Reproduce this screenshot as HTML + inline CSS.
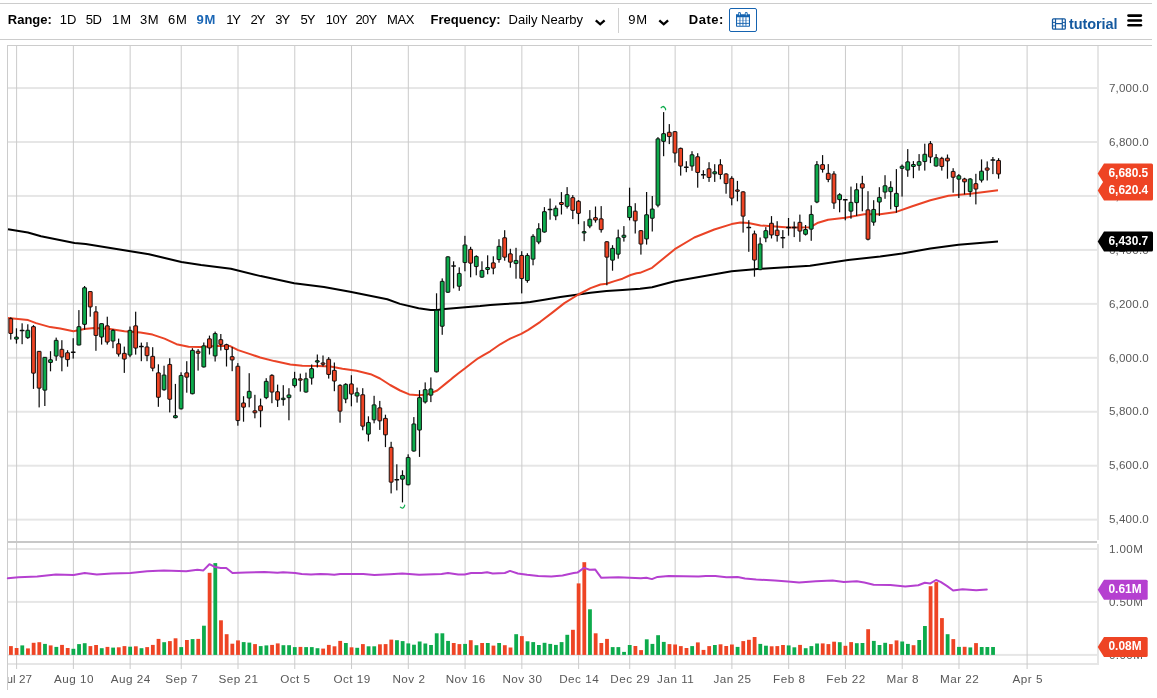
<!DOCTYPE html>
<html lang="en"><head><meta charset="utf-8"><title>Chart</title>
<style>
html,body{margin:0;padding:0;background:#fff;}
body{width:1157px;height:698px;overflow:hidden;position:relative;font-family:"Liberation Sans",sans-serif;color:#000;}
#bar{position:absolute;left:0;top:3px;width:1152px;height:35px;border-top:1px solid #ccc;border-bottom:1px solid #ccc;box-sizing:content-box;}
#bar span{position:absolute;top:8px;font-size:13px;line-height:16px;white-space:nowrap;}
#bar b{font-weight:bold;}
#bar .sel{color:#1a66b5;font-weight:bold;}
#sep{position:absolute;left:618px;top:4px;width:1px;height:25px;background:#d0d0d0;}
#cal{position:absolute;left:729px;top:4px;width:26px;height:22px;border:1px solid #1563b0;border-radius:2px;}
#tut{color:#14599f;font-weight:bold;font-size:14.5px !important;letter-spacing:-0.1px;}
#chart{position:absolute;left:7px;top:45px;width:1145px;height:645px;border-left:1px solid #ccc;border-top:1px solid #ccc;box-sizing:border-box;}
svg{position:absolute;left:0;top:0;}
svg text{font-family:"Liberation Sans",sans-serif;}
</style></head><body>
<div id="bar">

<span style="left:7.8px"><b>Range:</b></span>
<span style="left:59.7px;letter-spacing:0.2px">1D</span>
<span style="left:85.7px;letter-spacing:-0.4px">5D</span>
<span style="left:112.0px;letter-spacing:0.9px">1M</span>
<span style="left:139.9px;letter-spacing:0.7px">3M</span>
<span style="left:167.9px;letter-spacing:0.8px">6M</span>
<span class="sel" style="left:196.4px;letter-spacing:0.9px">9M</span>
<span style="left:226.3px;letter-spacing:-1.2px">1Y</span>
<span style="left:250.5px;letter-spacing:-0.9px">2Y</span>
<span style="left:275.2px;letter-spacing:-0.9px">3Y</span>
<span style="left:300.5px;letter-spacing:-1.0px">5Y</span>
<span style="left:325.8px;letter-spacing:-0.6px">10Y</span>
<span style="left:355.6px;letter-spacing:-0.8px">20Y</span>
<span style="left:387.0px;letter-spacing:-0.4px">MAX</span>
<span style="left:430.6px"><b>Frequency:</b></span>
<span style="left:508.6px">Daily Nearby</span>
<span style="left:628.2px;letter-spacing:0.9px">9M</span>
<span style="left:688.7px;letter-spacing:0.55px"><b>Date:</b></span>
<div id="sep"></div><div id="cal"></div>
<span id="tut" style="left:1069px;top:12px">tutorial</span>
</div>
<div id="chart"></div>
<svg width="1157" height="698" viewBox="0 0 1157 698">
<path d="M595.8 20.3 L600.2 24.3 L604.6 20.3" fill="none" stroke="#000" stroke-width="2.3" stroke-linecap="butt" stroke-linejoin="miter"/>
<path d="M659.3 20.3 L663.7 24.3 L668.1 20.3" fill="none" stroke="#000" stroke-width="2.3" stroke-linecap="butt" stroke-linejoin="miter"/>
<g fill="#1563b0"><path d="M736 14.2 h14 v11.8 a0.8 0.8 0 0 1 -0.8 0.8 h-12.4 a0.8 0.8 0 0 1 -0.8 -0.8z M737.1 17.2 v8.6 h11.8 v-8.6z"/><rect x="738.1" y="12" width="2.7" height="4.2" rx="1.2"/><rect x="744.9" y="12" width="2.7" height="4.2" rx="1.2"/><rect x="739.5" y="17.2" width="0.9" height="8.6"/><rect x="742.5" y="17.2" width="0.9" height="8.6"/><rect x="745.5" y="17.2" width="0.9" height="8.6"/><rect x="737.1" y="20.0" width="11.8" height="0.5" opacity="0.6"/><rect x="737.1" y="22.9" width="11.8" height="0.9"/></g>
<g fill="#bfe0f5"><rect x="738.9" y="12.7" width="1.1" height="2.6" rx="0.55"/><rect x="745.7" y="12.7" width="1.1" height="2.6" rx="0.55"/></g>
<g fill="none" stroke="#14599f"><rect x="1052.5" y="18.8" width="12.8" height="10.4" rx="1" stroke-width="1.3"/><path d="M1055.5 18.8v10.4M1062.3 18.8v10.4M1055.5 23.6h6.8" stroke-width="1.2"/><path d="M1052.5 22.4h3M1052.5 25.9h3M1062.3 22.4h3M1062.3 25.9h3" stroke-width="1"/></g>
<rect x="1127.2" y="14.299999999999999" width="15" height="2.6" rx="1.3" fill="#000"/>
<rect x="1127.2" y="19.15" width="15" height="2.6" rx="1.3" fill="#000"/>
<rect x="1127.2" y="23.9" width="15" height="2.6" rx="1.3" fill="#000"/>
<rect x="8" y="518.65" width="1089" height="2" fill="#e6e6e6"/>
<rect x="8" y="464.70" width="1089" height="2" fill="#e6e6e6"/>
<rect x="8" y="410.75" width="1089" height="2" fill="#e6e6e6"/>
<rect x="8" y="356.80" width="1089" height="2" fill="#e6e6e6"/>
<rect x="8" y="302.85" width="1089" height="2" fill="#e6e6e6"/>
<rect x="8" y="248.90" width="1089" height="2" fill="#e6e6e6"/>
<rect x="8" y="194.95" width="1089" height="2" fill="#e6e6e6"/>
<rect x="8" y="141.00" width="1089" height="2" fill="#e6e6e6"/>
<rect x="8" y="87.05" width="1089" height="2" fill="#e6e6e6"/>
<rect x="8" y="548.00" width="1089" height="2" fill="#e6e6e6"/>
<rect x="8" y="600.90" width="1089" height="2" fill="#e6e6e6"/>
<rect x="8" y="653.90" width="1089" height="2" fill="#e6e6e6"/>
<rect x="8" y="663" width="1091" height="2" fill="#e6e6e6"/>
<rect x="1097" y="46" width="2" height="494" fill="#e6e6e6"/>
<rect x="1097" y="544" width="2" height="121" fill="#e6e6e6"/>
<rect x="16.10" y="46" width="1" height="623" fill="#cbcbcb"/>
<rect x="72.87" y="46" width="1" height="623" fill="#cbcbcb"/>
<rect x="129.64" y="46" width="1" height="623" fill="#cbcbcb"/>
<rect x="180.73" y="46" width="1" height="623" fill="#cbcbcb"/>
<rect x="237.50" y="46" width="1" height="623" fill="#cbcbcb"/>
<rect x="294.27" y="46" width="1" height="623" fill="#cbcbcb"/>
<rect x="351.04" y="46" width="1" height="623" fill="#cbcbcb"/>
<rect x="407.81" y="46" width="1" height="623" fill="#cbcbcb"/>
<rect x="464.58" y="46" width="1" height="623" fill="#cbcbcb"/>
<rect x="521.35" y="46" width="1" height="623" fill="#cbcbcb"/>
<rect x="578.12" y="46" width="1" height="623" fill="#cbcbcb"/>
<rect x="629.21" y="46" width="1" height="623" fill="#cbcbcb"/>
<rect x="674.63" y="46" width="1" height="623" fill="#cbcbcb"/>
<rect x="731.40" y="46" width="1" height="623" fill="#cbcbcb"/>
<rect x="788.17" y="46" width="1" height="623" fill="#cbcbcb"/>
<rect x="844.94" y="46" width="1" height="623" fill="#cbcbcb"/>
<rect x="901.71" y="46" width="1" height="623" fill="#cbcbcb"/>
<rect x="958.48" y="46" width="1" height="623" fill="#cbcbcb"/>
<rect x="1026.60" y="46" width="1" height="623" fill="#cbcbcb"/>
<rect x="8" y="541" width="1089" height="2" fill="#c8c8c8"/>
<clipPath id="cl"><rect x="8" y="665" width="1149" height="33"/></clipPath>
<g clip-path="url(#cl)" font-size="11.7" letter-spacing="0.5" fill="#585858" text-anchor="middle">
<text x="16.3" y="682.6" letter-spacing="0">Jul 27</text>
<text x="74.0" y="682.6">Aug 10</text>
<text x="130.7" y="682.6">Aug 24</text>
<text x="181.8" y="682.6">Sep 7</text>
<text x="238.6" y="682.6">Sep 21</text>
<text x="295.4" y="682.6">Oct 5</text>
<text x="352.1" y="682.6">Oct 19</text>
<text x="408.9" y="682.6">Nov 2</text>
<text x="465.7" y="682.6">Nov 16</text>
<text x="522.4" y="682.6">Nov 30</text>
<text x="579.2" y="682.6">Dec 14</text>
<text x="630.3" y="682.6">Dec 29</text>
<text x="675.7" y="682.6">Jan 11</text>
<text x="732.5" y="682.6">Jan 25</text>
<text x="789.3" y="682.6">Feb 8</text>
<text x="846.0" y="682.6">Feb 22</text>
<text x="902.8" y="682.6">Mar 8</text>
<text x="959.6" y="682.6">Mar 22</text>
<text x="1027.7" y="682.6">Apr 5</text>
</g>
<g font-size="11.6" letter-spacing="0.2" fill="#585858">
<text x="1108.9" y="523.4">5,400.0</text>
<text x="1108.9" y="469.4">5,600.0</text>
<text x="1108.9" y="415.4">5,800.0</text>
<text x="1108.9" y="361.5">6,000.0</text>
<text x="1108.9" y="307.6">6,200.0</text>
<text x="1108.9" y="253.6">6,400.0</text>
<text x="1108.9" y="199.6">6,600.0</text>
<text x="1108.9" y="145.7">6,800.0</text>
<text x="1108.9" y="91.8">7,000.0</text>
<text x="1108.9" y="552.7" letter-spacing="0.45">1.00M</text>
<text x="1108.9" y="605.6" letter-spacing="0.45">0.50M</text>
<text x="1108.9" y="658.6" letter-spacing="0.45">0.00M</text>
</g>
<rect x="9.02" y="646.1" width="3.8" height="8.8" fill="#ee4424"/>
<rect x="14.70" y="648.0" width="3.8" height="6.9" fill="#ee4424"/>
<rect x="20.37" y="645.4" width="3.8" height="9.5" fill="#0dab4c"/>
<rect x="26.05" y="648.4" width="3.8" height="6.5" fill="#ee4424"/>
<rect x="31.73" y="642.8" width="3.8" height="12.1" fill="#ee4424"/>
<rect x="37.41" y="642.2" width="3.8" height="12.7" fill="#ee4424"/>
<rect x="43.08" y="643.9" width="3.8" height="11.0" fill="#0dab4c"/>
<rect x="48.76" y="645.4" width="3.8" height="9.5" fill="#ee4424"/>
<rect x="54.44" y="646.9" width="3.8" height="8.0" fill="#0dab4c"/>
<rect x="60.11" y="644.9" width="3.8" height="10.0" fill="#ee4424"/>
<rect x="65.79" y="648.0" width="3.8" height="6.9" fill="#ee4424"/>
<rect x="71.47" y="648.8" width="3.8" height="6.1" fill="#0dab4c"/>
<rect x="77.14" y="644.1" width="3.8" height="10.8" fill="#0dab4c"/>
<rect x="82.82" y="643.2" width="3.8" height="11.7" fill="#0dab4c"/>
<rect x="88.50" y="646.1" width="3.8" height="8.8" fill="#ee4424"/>
<rect x="94.17" y="645.0" width="3.8" height="9.9" fill="#ee4424"/>
<rect x="99.85" y="648.2" width="3.8" height="6.7" fill="#0dab4c"/>
<rect x="105.53" y="646.9" width="3.8" height="8.0" fill="#ee4424"/>
<rect x="111.21" y="647.6" width="3.8" height="7.3" fill="#0dab4c"/>
<rect x="116.88" y="647.3" width="3.8" height="7.6" fill="#ee4424"/>
<rect x="122.56" y="646.1" width="3.8" height="8.8" fill="#ee4424"/>
<rect x="128.24" y="646.7" width="3.8" height="8.2" fill="#0dab4c"/>
<rect x="133.91" y="646.3" width="3.8" height="8.6" fill="#ee4424"/>
<rect x="139.59" y="648.2" width="3.8" height="6.7" fill="#0dab4c"/>
<rect x="145.27" y="647.1" width="3.8" height="7.8" fill="#ee4424"/>
<rect x="150.94" y="644.9" width="3.8" height="10.0" fill="#ee4424"/>
<rect x="156.62" y="638.9" width="3.8" height="16.0" fill="#ee4424"/>
<rect x="162.30" y="642.2" width="3.8" height="12.7" fill="#0dab4c"/>
<rect x="167.98" y="641.1" width="3.8" height="13.8" fill="#ee4424"/>
<rect x="173.65" y="638.3" width="3.8" height="16.6" fill="#ee4424"/>
<rect x="179.33" y="647.1" width="3.8" height="7.8" fill="#0dab4c"/>
<rect x="185.01" y="640.0" width="3.8" height="14.9" fill="#ee4424"/>
<rect x="190.68" y="639.1" width="3.8" height="15.8" fill="#0dab4c"/>
<rect x="196.36" y="638.9" width="3.8" height="16.0" fill="#ee4424"/>
<rect x="202.04" y="625.7" width="3.8" height="29.2" fill="#0dab4c"/>
<rect x="207.71" y="572.8" width="3.8" height="82.1" fill="#ee4424"/>
<rect x="213.39" y="563.1" width="3.8" height="91.8" fill="#0dab4c"/>
<rect x="219.07" y="620.3" width="3.8" height="34.6" fill="#ee4424"/>
<rect x="224.75" y="634.2" width="3.8" height="20.7" fill="#ee4424"/>
<rect x="230.42" y="643.7" width="3.8" height="11.2" fill="#ee4424"/>
<rect x="236.10" y="640.4" width="3.8" height="14.5" fill="#ee4424"/>
<rect x="241.78" y="642.1" width="3.8" height="12.8" fill="#0dab4c"/>
<rect x="247.45" y="642.6" width="3.8" height="12.3" fill="#0dab4c"/>
<rect x="253.13" y="644.1" width="3.8" height="10.8" fill="#ee4424"/>
<rect x="258.81" y="646.1" width="3.8" height="8.8" fill="#0dab4c"/>
<rect x="264.49" y="645.4" width="3.8" height="9.5" fill="#0dab4c"/>
<rect x="270.16" y="644.9" width="3.8" height="10.0" fill="#ee4424"/>
<rect x="275.84" y="643.4" width="3.8" height="11.5" fill="#ee4424"/>
<rect x="281.52" y="645.2" width="3.8" height="9.7" fill="#0dab4c"/>
<rect x="287.19" y="645.2" width="3.8" height="9.7" fill="#0dab4c"/>
<rect x="292.87" y="647.1" width="3.8" height="7.8" fill="#0dab4c"/>
<rect x="298.55" y="646.9" width="3.8" height="8.0" fill="#ee4424"/>
<rect x="304.22" y="647.1" width="3.8" height="7.8" fill="#0dab4c"/>
<rect x="309.90" y="647.1" width="3.8" height="7.8" fill="#0dab4c"/>
<rect x="315.58" y="648.2" width="3.8" height="6.7" fill="#0dab4c"/>
<rect x="321.25" y="648.6" width="3.8" height="6.3" fill="#ee4424"/>
<rect x="326.93" y="644.9" width="3.8" height="10.0" fill="#ee4424"/>
<rect x="332.61" y="646.3" width="3.8" height="8.6" fill="#ee4424"/>
<rect x="338.29" y="640.9" width="3.8" height="14.0" fill="#ee4424"/>
<rect x="343.96" y="643.0" width="3.8" height="11.9" fill="#0dab4c"/>
<rect x="349.64" y="647.3" width="3.8" height="7.6" fill="#ee4424"/>
<rect x="355.32" y="647.8" width="3.8" height="7.1" fill="#0dab4c"/>
<rect x="360.99" y="644.1" width="3.8" height="10.8" fill="#ee4424"/>
<rect x="366.67" y="646.3" width="3.8" height="8.6" fill="#0dab4c"/>
<rect x="372.35" y="646.3" width="3.8" height="8.6" fill="#0dab4c"/>
<rect x="378.03" y="644.3" width="3.8" height="10.6" fill="#ee4424"/>
<rect x="383.70" y="644.1" width="3.8" height="10.8" fill="#ee4424"/>
<rect x="389.38" y="639.6" width="3.8" height="15.3" fill="#ee4424"/>
<rect x="395.06" y="640.2" width="3.8" height="14.7" fill="#0dab4c"/>
<rect x="400.73" y="641.1" width="3.8" height="13.8" fill="#0dab4c"/>
<rect x="406.41" y="643.4" width="3.8" height="11.5" fill="#0dab4c"/>
<rect x="412.09" y="644.7" width="3.8" height="10.2" fill="#0dab4c"/>
<rect x="417.76" y="641.5" width="3.8" height="13.4" fill="#0dab4c"/>
<rect x="423.44" y="643.5" width="3.8" height="11.4" fill="#0dab4c"/>
<rect x="429.12" y="645.0" width="3.8" height="9.9" fill="#0dab4c"/>
<rect x="434.80" y="633.3" width="3.8" height="21.6" fill="#0dab4c"/>
<rect x="440.47" y="633.3" width="3.8" height="21.6" fill="#0dab4c"/>
<rect x="446.15" y="640.9" width="3.8" height="14.0" fill="#0dab4c"/>
<rect x="451.83" y="643.0" width="3.8" height="11.9" fill="#ee4424"/>
<rect x="457.50" y="644.1" width="3.8" height="10.8" fill="#ee4424"/>
<rect x="463.18" y="643.9" width="3.8" height="11.0" fill="#0dab4c"/>
<rect x="468.86" y="640.2" width="3.8" height="14.7" fill="#ee4424"/>
<rect x="474.53" y="645.2" width="3.8" height="9.7" fill="#0dab4c"/>
<rect x="480.21" y="643.0" width="3.8" height="11.9" fill="#ee4424"/>
<rect x="485.89" y="643.0" width="3.8" height="11.9" fill="#0dab4c"/>
<rect x="491.56" y="645.6" width="3.8" height="9.3" fill="#ee4424"/>
<rect x="497.24" y="643.0" width="3.8" height="11.9" fill="#0dab4c"/>
<rect x="502.92" y="645.2" width="3.8" height="9.7" fill="#ee4424"/>
<rect x="508.60" y="647.5" width="3.8" height="7.4" fill="#ee4424"/>
<rect x="514.27" y="634.2" width="3.8" height="20.7" fill="#0dab4c"/>
<rect x="519.95" y="636.1" width="3.8" height="18.8" fill="#ee4424"/>
<rect x="525.63" y="641.3" width="3.8" height="13.6" fill="#0dab4c"/>
<rect x="531.30" y="642.1" width="3.8" height="12.8" fill="#0dab4c"/>
<rect x="536.98" y="645.0" width="3.8" height="9.9" fill="#0dab4c"/>
<rect x="542.66" y="642.8" width="3.8" height="12.1" fill="#0dab4c"/>
<rect x="548.33" y="643.9" width="3.8" height="11.0" fill="#0dab4c"/>
<rect x="554.01" y="644.9" width="3.8" height="10.0" fill="#0dab4c"/>
<rect x="559.69" y="642.1" width="3.8" height="12.8" fill="#0dab4c"/>
<rect x="565.37" y="634.8" width="3.8" height="20.1" fill="#0dab4c"/>
<rect x="571.04" y="629.8" width="3.8" height="25.1" fill="#ee4424"/>
<rect x="576.72" y="583.4" width="3.8" height="71.5" fill="#ee4424"/>
<rect x="582.40" y="562.2" width="3.8" height="92.7" fill="#ee4424"/>
<rect x="588.07" y="609.3" width="3.8" height="45.6" fill="#0dab4c"/>
<rect x="593.75" y="633.3" width="3.8" height="21.6" fill="#ee4424"/>
<rect x="599.43" y="643.0" width="3.8" height="11.9" fill="#ee4424"/>
<rect x="605.10" y="638.9" width="3.8" height="16.0" fill="#ee4424"/>
<rect x="610.78" y="647.1" width="3.8" height="7.8" fill="#0dab4c"/>
<rect x="616.46" y="647.1" width="3.8" height="7.8" fill="#0dab4c"/>
<rect x="622.14" y="651.9" width="3.8" height="3.0" fill="#0dab4c"/>
<rect x="627.81" y="645.0" width="3.8" height="9.9" fill="#0dab4c"/>
<rect x="633.49" y="646.0" width="3.8" height="8.9" fill="#ee4424"/>
<rect x="639.17" y="650.1" width="3.8" height="4.8" fill="#ee4424"/>
<rect x="644.84" y="639.3" width="3.8" height="15.6" fill="#0dab4c"/>
<rect x="650.52" y="643.9" width="3.8" height="11.0" fill="#0dab4c"/>
<rect x="656.20" y="635.2" width="3.8" height="19.7" fill="#0dab4c"/>
<rect x="661.87" y="641.9" width="3.8" height="13.0" fill="#0dab4c"/>
<rect x="667.55" y="644.1" width="3.8" height="10.8" fill="#ee4424"/>
<rect x="673.23" y="644.5" width="3.8" height="10.4" fill="#ee4424"/>
<rect x="678.91" y="646.1" width="3.8" height="8.8" fill="#ee4424"/>
<rect x="684.58" y="648.0" width="3.8" height="6.9" fill="#ee4424"/>
<rect x="690.26" y="646.1" width="3.8" height="8.8" fill="#0dab4c"/>
<rect x="695.94" y="642.4" width="3.8" height="12.5" fill="#ee4424"/>
<rect x="701.61" y="649.9" width="3.8" height="5.0" fill="#ee4424"/>
<rect x="707.29" y="646.1" width="3.8" height="8.8" fill="#ee4424"/>
<rect x="712.97" y="645.0" width="3.8" height="9.9" fill="#0dab4c"/>
<rect x="718.64" y="644.3" width="3.8" height="10.6" fill="#ee4424"/>
<rect x="724.32" y="646.0" width="3.8" height="8.9" fill="#ee4424"/>
<rect x="730.00" y="644.5" width="3.8" height="10.4" fill="#ee4424"/>
<rect x="735.68" y="646.9" width="3.8" height="8.0" fill="#0dab4c"/>
<rect x="741.35" y="641.1" width="3.8" height="13.8" fill="#ee4424"/>
<rect x="747.03" y="639.8" width="3.8" height="15.1" fill="#ee4424"/>
<rect x="752.71" y="637.0" width="3.8" height="17.9" fill="#ee4424"/>
<rect x="758.38" y="643.9" width="3.8" height="11.0" fill="#0dab4c"/>
<rect x="764.06" y="645.7" width="3.8" height="9.2" fill="#0dab4c"/>
<rect x="769.74" y="646.3" width="3.8" height="8.6" fill="#ee4424"/>
<rect x="775.41" y="646.1" width="3.8" height="8.8" fill="#ee4424"/>
<rect x="781.09" y="645.0" width="3.8" height="9.9" fill="#ee4424"/>
<rect x="786.77" y="645.4" width="3.8" height="9.5" fill="#0dab4c"/>
<rect x="792.45" y="647.3" width="3.8" height="7.6" fill="#0dab4c"/>
<rect x="798.12" y="644.9" width="3.8" height="10.0" fill="#ee4424"/>
<rect x="803.80" y="648.2" width="3.8" height="6.7" fill="#0dab4c"/>
<rect x="809.48" y="646.1" width="3.8" height="8.8" fill="#0dab4c"/>
<rect x="815.15" y="643.5" width="3.8" height="11.4" fill="#0dab4c"/>
<rect x="820.83" y="643.4" width="3.8" height="11.5" fill="#ee4424"/>
<rect x="826.51" y="644.1" width="3.8" height="10.8" fill="#ee4424"/>
<rect x="832.18" y="641.7" width="3.8" height="13.2" fill="#ee4424"/>
<rect x="837.86" y="642.2" width="3.8" height="12.7" fill="#0dab4c"/>
<rect x="843.54" y="645.8" width="3.8" height="9.1" fill="#ee4424"/>
<rect x="849.22" y="642.1" width="3.8" height="12.8" fill="#ee4424"/>
<rect x="854.89" y="643.2" width="3.8" height="11.7" fill="#0dab4c"/>
<rect x="860.57" y="643.0" width="3.8" height="11.9" fill="#0dab4c"/>
<rect x="866.25" y="629.2" width="3.8" height="25.7" fill="#ee4424"/>
<rect x="871.92" y="640.9" width="3.8" height="14.0" fill="#0dab4c"/>
<rect x="877.60" y="645.0" width="3.8" height="9.9" fill="#0dab4c"/>
<rect x="883.28" y="642.8" width="3.8" height="12.1" fill="#0dab4c"/>
<rect x="888.95" y="644.1" width="3.8" height="10.8" fill="#ee4424"/>
<rect x="894.63" y="640.4" width="3.8" height="14.5" fill="#ee4424"/>
<rect x="900.31" y="641.5" width="3.8" height="13.4" fill="#0dab4c"/>
<rect x="905.99" y="643.9" width="3.8" height="11.0" fill="#0dab4c"/>
<rect x="911.66" y="645.2" width="3.8" height="9.7" fill="#ee4424"/>
<rect x="917.34" y="640.0" width="3.8" height="14.9" fill="#0dab4c"/>
<rect x="923.02" y="626.0" width="3.8" height="28.9" fill="#0dab4c"/>
<rect x="928.69" y="586.2" width="3.8" height="68.7" fill="#ee4424"/>
<rect x="934.37" y="582.1" width="3.8" height="72.8" fill="#ee4424"/>
<rect x="940.05" y="618.1" width="3.8" height="36.8" fill="#ee4424"/>
<rect x="945.72" y="634.2" width="3.8" height="20.7" fill="#0dab4c"/>
<rect x="951.40" y="639.1" width="3.8" height="15.8" fill="#ee4424"/>
<rect x="957.08" y="646.9" width="3.8" height="8.0" fill="#0dab4c"/>
<rect x="962.76" y="646.8" width="3.8" height="8.1" fill="#ee4424"/>
<rect x="968.43" y="647.4" width="3.8" height="7.5" fill="#0dab4c"/>
<rect x="974.11" y="643.1" width="3.8" height="11.8" fill="#ee4424"/>
<rect x="979.79" y="647.0" width="3.8" height="7.9" fill="#0dab4c"/>
<rect x="985.46" y="647.0" width="3.8" height="7.9" fill="#0dab4c"/>
<rect x="991.14" y="647.0" width="3.8" height="7.9" fill="#0dab4c"/>
<path d="M7.8 578.2 L18.6 577.2 L37.2 576.5 L55.9 574.6 L73.6 575.0 L84.7 573.1 L96.8 574.6 L111.7 573.5 L130.4 573.0 L147.1 571.3 L163.9 570.5 L186.2 571.3 L197.4 569.8 L203.4 570.4 L209.4 564.2 L215.1 567.0 L220.7 567.9 L226.3 567.9 L232.5 573.0 L245.9 572.6 L264.5 572.0 L277.5 572.8 L283.1 572.2 L295.2 573.0 L301.7 574.1 L311.0 574.6 L320.4 574.1 L327.8 574.3 L334.3 574.8 L340.1 574.1 L363.2 574.1 L374.4 575.0 L390.0 574.3 L402.3 573.5 L419.1 574.8 L441.5 574.1 L448.0 573.1 L458.2 574.6 L464.7 574.5 L471.2 573.1 L481.5 573.1 L487.1 572.2 L492.7 573.5 L504.8 573.0 L510.0 570.9 L517.8 573.5 L527.1 574.8 L538.3 575.9 L551.3 576.5 L562.5 575.4 L573.7 573.1 L577.4 572.6 L584.0 567.9 L589.6 569.8 L595.1 569.4 L601.3 577.8 L618.4 577.2 L640.8 578.2 L646.4 577.8 L651.9 579.1 L657.5 576.9 L668.7 575.9 L698.5 576.5 L705.9 575.9 L715.3 575.9 L726.4 577.2 L737.6 576.9 L745.0 578.5 L756.2 579.5 L774.9 580.6 L787.9 581.5 L799.1 582.5 L815.9 581.3 L832.6 580.6 L843.8 581.9 L856.8 581.3 L864.3 582.5 L873.6 584.7 L890.4 585.1 L905.3 586.6 L918.3 585.3 L924.8 582.8 L930.4 583.4 L936.0 580.0 L940.6 581.9 L946.8 585.9 L953.1 590.5 L962.6 589.3 L976.2 590.2 L986.8 589.5" fill="none" stroke="#b540d0" stroke-width="2" stroke-linejoin="round" stroke-linecap="round"/>
<path d="M8.0 229.2 L27.9 232.5 L41.0 236.3 L74.5 243.0 L85.7 244.1 L130.4 251.2 L149.0 254.2 L181.4 262.0 L201.1 265.0 L230.9 268.7 L260.7 276.1 L294.2 283.2 L324.0 286.9 L350.1 291.8 L387.3 299.2 L400.0 303.9 L418.6 308.2 L430.7 310.0 L437.2 310.0 L444.7 309.1 L465.2 307.2 L480.2 306.0 L490.2 304.9 L505.0 304.0 L521.2 303.1 L530.3 302.1 L544.3 299.7 L560.4 297.1 L578.4 294.5 L590.5 292.7 L606.5 291.1 L622.5 290.1 L640.0 288.7 L652.1 287.3 L674.8 281.3 L731.6 271.2 L760.5 268.8 L810.0 265.8 L848.1 260.0 L880.2 256.4 L902.3 253.4 L930.4 248.4 L958.5 244.8 L998.0 241.6" fill="none" stroke="#000" stroke-width="2" stroke-linejoin="round"/>
<path d="M8.0 318.1 L28.1 320.1 L36.1 323.1 L50.2 327.1 L60.2 328.5 L73.4 331.2 L84.3 329.1 L94.3 328.1 L108.3 328.7 L124.4 331.2 L140.4 332.6 L152.5 334.6 L164.5 338.6 L176.5 344.2 L188.6 346.8 L200.0 347.0 L220.1 345.7 L230.1 346.1 L238.1 350.1 L250.2 354.1 L260.2 357.5 L274.3 361.1 L290.3 364.5 L302.3 365.7 L318.4 366.1 L330.4 366.5 L342.5 368.7 L356.5 370.8 L370.6 374.2 L380.0 378.5 L390.1 385.0 L400.1 390.5 L409.3 394.4 L418.6 395.3 L427.9 394.4 L437.2 390.5 L446.6 382.9 L452.0 378.4 L458.5 373.3 L465.1 368.3 L471.5 363.2 L478.1 358.3 L484.0 354.8 L490.2 351.3 L500.2 344.3 L510.2 338.6 L521.2 333.8 L528.3 329.8 L540.3 321.8 L552.3 312.6 L564.4 303.1 L578.4 294.5 L590.5 288.1 L600.5 284.5 L606.5 283.7 L614.5 281.1 L622.5 278.7 L630.6 275.0 L636.6 273.2 L640.0 272.8 L652.1 267.8 L674.8 249.2 L694.3 237.5 L714.3 229.5 L731.6 224.1 L740.4 222.5 L748.4 223.1 L760.5 225.5 L788.5 227.5 L810.0 227.3 L818.1 222.7 L828.1 219.7 L845.3 217.7 L864.2 214.3 L880.2 214.3 L896.3 211.9 L912.3 206.3 L930.4 200.2 L948.4 195.8 L970.5 193.8 L998.0 190.2" fill="none" stroke="#ea4326" stroke-width="2" stroke-linejoin="round"/>
<rect x="10.17" y="317.3" width="1.2" height="22.3" fill="#0a0a0a"/>
<rect x="8.87" y="318.65" width="3.8" height="14.80" fill="#ee4424" stroke="#0a0a0a" stroke-width="0.95" rx="0.3"/>
<rect x="15.85" y="328.3" width="1.2" height="15.3" fill="#0a0a0a"/>
<rect x="14.55" y="337.10" width="3.8" height="2.00" fill="#0dab4c" stroke="#0a0a0a" stroke-width="0.95" rx="0.3"/>
<rect x="21.52" y="323.3" width="1.2" height="20.9" fill="#0a0a0a"/>
<rect x="19.72" y="329.75" width="4.8" height="1.5" rx="0.6" fill="#0a0a0a"/>
<rect x="27.20" y="324.3" width="1.2" height="14.6" fill="#0a0a0a"/>
<rect x="25.90" y="330.25" width="3.8" height="7.40" fill="#0dab4c" stroke="#0a0a0a" stroke-width="0.95" rx="0.3"/>
<rect x="32.88" y="325.1" width="1.2" height="63.8" fill="#0a0a0a"/>
<rect x="31.58" y="326.65" width="3.8" height="46.50" fill="#ee4424" stroke="#0a0a0a" stroke-width="0.95" rx="0.3"/>
<rect x="38.55" y="351.2" width="1.2" height="56.2" fill="#0a0a0a"/>
<rect x="37.26" y="351.35" width="3.8" height="36.80" fill="#ee4424" stroke="#0a0a0a" stroke-width="0.95" rx="0.3"/>
<rect x="44.23" y="357.2" width="1.2" height="48.8" fill="#0a0a0a"/>
<rect x="42.93" y="357.35" width="3.8" height="32.80" fill="#0dab4c" stroke="#0a0a0a" stroke-width="0.95" rx="0.3"/>
<rect x="49.91" y="351.2" width="1.2" height="20.1" fill="#0a0a0a"/>
<rect x="48.61" y="359.75" width="3.8" height="2.70" fill="#0dab4c" stroke="#0a0a0a" stroke-width="0.95" rx="0.3"/>
<rect x="55.59" y="337.6" width="1.2" height="23.2" fill="#0a0a0a"/>
<rect x="54.29" y="340.35" width="3.8" height="15.70" fill="#0dab4c" stroke="#0a0a0a" stroke-width="0.95" rx="0.3"/>
<rect x="61.26" y="340.2" width="1.2" height="31.1" fill="#0a0a0a"/>
<rect x="59.96" y="349.35" width="3.8" height="7.70" fill="#ee4424" stroke="#0a0a0a" stroke-width="0.95" rx="0.3"/>
<rect x="66.94" y="350.2" width="1.2" height="16.5" fill="#0a0a0a"/>
<rect x="65.64" y="352.75" width="3.8" height="6.90" fill="#ee4424" stroke="#0a0a0a" stroke-width="0.95" rx="0.3"/>
<rect x="72.62" y="338.2" width="1.2" height="20.4" fill="#0a0a0a"/>
<rect x="70.82" y="351.45" width="4.8" height="1.5" rx="0.6" fill="#0a0a0a"/>
<rect x="78.29" y="310.1" width="1.2" height="35.1" fill="#0a0a0a"/>
<rect x="76.99" y="326.65" width="3.8" height="18.40" fill="#0dab4c" stroke="#0a0a0a" stroke-width="0.95" rx="0.3"/>
<rect x="83.97" y="286.0" width="1.2" height="43.7" fill="#0a0a0a"/>
<rect x="82.67" y="287.75" width="3.8" height="36.60" fill="#0dab4c" stroke="#0a0a0a" stroke-width="0.95" rx="0.3"/>
<rect x="89.65" y="291.4" width="1.2" height="25.3" fill="#0a0a0a"/>
<rect x="88.35" y="291.55" width="3.8" height="15.40" fill="#ee4424" stroke="#0a0a0a" stroke-width="0.95" rx="0.3"/>
<rect x="95.33" y="306.1" width="1.2" height="44.7" fill="#0a0a0a"/>
<rect x="94.02" y="311.85" width="3.8" height="23.60" fill="#ee4424" stroke="#0a0a0a" stroke-width="0.95" rx="0.3"/>
<rect x="101.00" y="323.5" width="1.2" height="21.1" fill="#0a0a0a"/>
<rect x="99.70" y="323.65" width="3.8" height="13.40" fill="#0dab4c" stroke="#0a0a0a" stroke-width="0.95" rx="0.3"/>
<rect x="106.68" y="316.7" width="1.2" height="27.9" fill="#0a0a0a"/>
<rect x="105.38" y="325.85" width="3.8" height="16.20" fill="#ee4424" stroke="#0a0a0a" stroke-width="0.95" rx="0.3"/>
<rect x="112.36" y="329.1" width="1.2" height="19.1" fill="#0a0a0a"/>
<rect x="111.06" y="330.35" width="3.8" height="10.70" fill="#0dab4c" stroke="#0a0a0a" stroke-width="0.95" rx="0.3"/>
<rect x="118.03" y="338.6" width="1.2" height="18.0" fill="#0a0a0a"/>
<rect x="116.73" y="343.75" width="3.8" height="10.30" fill="#ee4424" stroke="#0a0a0a" stroke-width="0.95" rx="0.3"/>
<rect x="123.71" y="346.6" width="1.2" height="26.3" fill="#0a0a0a"/>
<rect x="122.41" y="353.35" width="3.8" height="5.70" fill="#ee4424" stroke="#0a0a0a" stroke-width="0.95" rx="0.3"/>
<rect x="129.39" y="326.5" width="1.2" height="30.7" fill="#0a0a0a"/>
<rect x="128.09" y="330.35" width="3.8" height="24.70" fill="#0dab4c" stroke="#0a0a0a" stroke-width="0.95" rx="0.3"/>
<rect x="135.06" y="311.7" width="1.2" height="42.9" fill="#0a0a0a"/>
<rect x="133.76" y="325.85" width="3.8" height="22.20" fill="#ee4424" stroke="#0a0a0a" stroke-width="0.95" rx="0.3"/>
<rect x="140.74" y="342.6" width="1.2" height="18.6" fill="#0a0a0a"/>
<rect x="138.94" y="345.85" width="4.8" height="1.5" rx="0.6" fill="#0a0a0a"/>
<rect x="146.42" y="342.2" width="1.2" height="19.0" fill="#0a0a0a"/>
<rect x="145.12" y="346.95" width="3.8" height="8.70" fill="#ee4424" stroke="#0a0a0a" stroke-width="0.95" rx="0.3"/>
<rect x="152.09" y="347.2" width="1.2" height="24.1" fill="#0a0a0a"/>
<rect x="150.79" y="356.35" width="3.8" height="11.80" fill="#ee4424" stroke="#0a0a0a" stroke-width="0.95" rx="0.3"/>
<rect x="157.77" y="364.3" width="1.2" height="42.5" fill="#0a0a0a"/>
<rect x="156.47" y="372.85" width="3.8" height="24.40" fill="#ee4424" stroke="#0a0a0a" stroke-width="0.95" rx="0.3"/>
<rect x="163.45" y="365.7" width="1.2" height="25.0" fill="#0a0a0a"/>
<rect x="162.15" y="375.05" width="3.8" height="14.70" fill="#0dab4c" stroke="#0a0a0a" stroke-width="0.95" rx="0.3"/>
<rect x="169.13" y="358.2" width="1.2" height="54.2" fill="#0a0a0a"/>
<rect x="167.83" y="364.45" width="3.8" height="34.80" fill="#ee4424" stroke="#0a0a0a" stroke-width="0.95" rx="0.3"/>
<rect x="174.80" y="383.9" width="1.2" height="34.5" fill="#0a0a0a"/>
<rect x="173.50" y="415.70" width="3.8" height="2.00" fill="#0dab4c" stroke="#0a0a0a" stroke-width="0.95" rx="0.3"/>
<rect x="180.48" y="372.3" width="1.2" height="37.1" fill="#0a0a0a"/>
<rect x="179.18" y="375.45" width="3.8" height="33.40" fill="#0dab4c" stroke="#0a0a0a" stroke-width="0.95" rx="0.3"/>
<rect x="186.16" y="361.2" width="1.2" height="31.5" fill="#0a0a0a"/>
<rect x="184.86" y="372.85" width="3.8" height="4.30" fill="#ee4424" stroke="#0a0a0a" stroke-width="0.95" rx="0.3"/>
<rect x="191.83" y="348.2" width="1.2" height="46.1" fill="#0a0a0a"/>
<rect x="190.53" y="350.35" width="3.8" height="43.40" fill="#0dab4c" stroke="#0a0a0a" stroke-width="0.95" rx="0.3"/>
<rect x="197.51" y="349.1" width="1.2" height="21.5" fill="#0a0a0a"/>
<rect x="196.21" y="351.25" width="3.8" height="2.00" fill="#ee4424" stroke="#0a0a0a" stroke-width="0.95" rx="0.3"/>
<rect x="203.19" y="342.5" width="1.2" height="25.0" fill="#0a0a0a"/>
<rect x="201.89" y="345.85" width="3.8" height="21.10" fill="#0dab4c" stroke="#0a0a0a" stroke-width="0.95" rx="0.3"/>
<rect x="208.86" y="335.6" width="1.2" height="18.9" fill="#0a0a0a"/>
<rect x="207.56" y="338.85" width="3.8" height="9.10" fill="#ee4424" stroke="#0a0a0a" stroke-width="0.95" rx="0.3"/>
<rect x="214.54" y="331.6" width="1.2" height="29.9" fill="#0a0a0a"/>
<rect x="213.24" y="333.55" width="3.8" height="22.40" fill="#0dab4c" stroke="#0a0a0a" stroke-width="0.95" rx="0.3"/>
<rect x="220.22" y="334.0" width="1.2" height="16.5" fill="#0a0a0a"/>
<rect x="218.92" y="339.65" width="3.8" height="4.70" fill="#ee4424" stroke="#0a0a0a" stroke-width="0.95" rx="0.3"/>
<rect x="225.90" y="343.7" width="1.2" height="22.8" fill="#0a0a0a"/>
<rect x="224.60" y="344.65" width="3.8" height="4.90" fill="#ee4424" stroke="#0a0a0a" stroke-width="0.95" rx="0.3"/>
<rect x="231.57" y="347.1" width="1.2" height="24.1" fill="#0a0a0a"/>
<rect x="230.27" y="356.65" width="3.8" height="3.30" fill="#ee4424" stroke="#0a0a0a" stroke-width="0.95" rx="0.3"/>
<rect x="237.25" y="363.1" width="1.2" height="62.6" fill="#0a0a0a"/>
<rect x="235.95" y="366.25" width="3.8" height="54.30" fill="#ee4424" stroke="#0a0a0a" stroke-width="0.95" rx="0.3"/>
<rect x="242.93" y="396.2" width="1.2" height="25.5" fill="#0a0a0a"/>
<rect x="241.63" y="402.95" width="3.8" height="4.20" fill="#ee4424" stroke="#0a0a0a" stroke-width="0.95" rx="0.3"/>
<rect x="248.60" y="373.2" width="1.2" height="34.1" fill="#0a0a0a"/>
<rect x="247.30" y="391.35" width="3.8" height="6.70" fill="#0dab4c" stroke="#0a0a0a" stroke-width="0.95" rx="0.3"/>
<rect x="254.28" y="394.8" width="1.2" height="23.5" fill="#0a0a0a"/>
<rect x="252.98" y="410.80" width="3.8" height="2.00" fill="#ee4424" stroke="#0a0a0a" stroke-width="0.95" rx="0.3"/>
<rect x="259.96" y="398.6" width="1.2" height="28.7" fill="#0a0a0a"/>
<rect x="258.66" y="405.85" width="3.8" height="4.90" fill="#ee4424" stroke="#0a0a0a" stroke-width="0.95" rx="0.3"/>
<rect x="265.63" y="378.2" width="1.2" height="21.0" fill="#0a0a0a"/>
<rect x="264.34" y="381.35" width="3.8" height="16.30" fill="#0dab4c" stroke="#0a0a0a" stroke-width="0.95" rx="0.3"/>
<rect x="271.31" y="374.2" width="1.2" height="29.0" fill="#0a0a0a"/>
<rect x="270.01" y="375.35" width="3.8" height="16.70" fill="#ee4424" stroke="#0a0a0a" stroke-width="0.95" rx="0.3"/>
<rect x="276.99" y="384.6" width="1.2" height="22.3" fill="#0a0a0a"/>
<rect x="275.69" y="391.75" width="3.8" height="8.30" fill="#ee4424" stroke="#0a0a0a" stroke-width="0.95" rx="0.3"/>
<rect x="282.67" y="385.2" width="1.2" height="20.5" fill="#0a0a0a"/>
<rect x="281.37" y="398.20" width="3.8" height="1.40" fill="#0dab4c" stroke="#0a0a0a" stroke-width="0.95" rx="0.3"/>
<rect x="288.34" y="388.2" width="1.2" height="32.1" fill="#0a0a0a"/>
<rect x="287.04" y="394.95" width="3.8" height="2.70" fill="#0dab4c" stroke="#0a0a0a" stroke-width="0.95" rx="0.3"/>
<rect x="294.02" y="371.8" width="1.2" height="15.8" fill="#0a0a0a"/>
<rect x="292.72" y="378.75" width="3.8" height="6.90" fill="#0dab4c" stroke="#0a0a0a" stroke-width="0.95" rx="0.3"/>
<rect x="299.70" y="373.6" width="1.2" height="18.0" fill="#0a0a0a"/>
<rect x="298.40" y="378.80" width="3.8" height="1.40" fill="#ee4424" stroke="#0a0a0a" stroke-width="0.95" rx="0.3"/>
<rect x="305.37" y="372.6" width="1.2" height="20.0" fill="#0a0a0a"/>
<rect x="304.07" y="378.75" width="3.8" height="13.30" fill="#0dab4c" stroke="#0a0a0a" stroke-width="0.95" rx="0.3"/>
<rect x="311.05" y="364.5" width="1.2" height="20.1" fill="#0a0a0a"/>
<rect x="309.75" y="368.65" width="3.8" height="9.40" fill="#0dab4c" stroke="#0a0a0a" stroke-width="0.95" rx="0.3"/>
<rect x="316.73" y="354.5" width="1.2" height="13.0" fill="#0a0a0a"/>
<rect x="315.43" y="360.70" width="3.8" height="1.40" fill="#0dab4c" stroke="#0a0a0a" stroke-width="0.95" rx="0.3"/>
<rect x="322.40" y="355.5" width="1.2" height="11.0" fill="#0a0a0a"/>
<rect x="321.11" y="362.90" width="3.8" height="1.40" fill="#ee4424" stroke="#0a0a0a" stroke-width="0.95" rx="0.3"/>
<rect x="328.08" y="357.1" width="1.2" height="21.5" fill="#0a0a0a"/>
<rect x="326.78" y="359.25" width="3.8" height="15.20" fill="#ee4424" stroke="#0a0a0a" stroke-width="0.95" rx="0.3"/>
<rect x="333.76" y="362.5" width="1.2" height="28.7" fill="#0a0a0a"/>
<rect x="332.46" y="370.35" width="3.8" height="10.70" fill="#ee4424" stroke="#0a0a0a" stroke-width="0.95" rx="0.3"/>
<rect x="339.44" y="384.2" width="1.2" height="38.5" fill="#0a0a0a"/>
<rect x="338.14" y="385.35" width="3.8" height="25.80" fill="#ee4424" stroke="#0a0a0a" stroke-width="0.95" rx="0.3"/>
<rect x="345.11" y="383.2" width="1.2" height="20.0" fill="#0a0a0a"/>
<rect x="343.81" y="384.35" width="3.8" height="14.70" fill="#0dab4c" stroke="#0a0a0a" stroke-width="0.95" rx="0.3"/>
<rect x="350.79" y="375.2" width="1.2" height="31.1" fill="#0a0a0a"/>
<rect x="349.49" y="383.95" width="3.8" height="10.10" fill="#ee4424" stroke="#0a0a0a" stroke-width="0.95" rx="0.3"/>
<rect x="356.47" y="387.6" width="1.2" height="15.0" fill="#0a0a0a"/>
<rect x="355.17" y="392.75" width="3.8" height="3.30" fill="#0dab4c" stroke="#0a0a0a" stroke-width="0.95" rx="0.3"/>
<rect x="362.14" y="388.2" width="1.2" height="42.1" fill="#0a0a0a"/>
<rect x="360.84" y="394.75" width="3.8" height="31.40" fill="#ee4424" stroke="#0a0a0a" stroke-width="0.95" rx="0.3"/>
<rect x="367.82" y="416.3" width="1.2" height="25.1" fill="#0a0a0a"/>
<rect x="366.52" y="422.45" width="3.8" height="11.70" fill="#0dab4c" stroke="#0a0a0a" stroke-width="0.95" rx="0.3"/>
<rect x="373.50" y="395.8" width="1.2" height="27.5" fill="#0a0a0a"/>
<rect x="372.20" y="404.85" width="3.8" height="15.00" fill="#0dab4c" stroke="#0a0a0a" stroke-width="0.95" rx="0.3"/>
<rect x="379.18" y="400.9" width="1.2" height="29.0" fill="#0a0a0a"/>
<rect x="377.88" y="407.85" width="3.8" height="13.00" fill="#ee4424" stroke="#0a0a0a" stroke-width="0.95" rx="0.3"/>
<rect x="384.85" y="414.7" width="1.2" height="32.4" fill="#0a0a0a"/>
<rect x="383.55" y="418.35" width="3.8" height="16.50" fill="#ee4424" stroke="#0a0a0a" stroke-width="0.95" rx="0.3"/>
<rect x="390.53" y="441.8" width="1.2" height="51.6" fill="#0a0a0a"/>
<rect x="389.23" y="447.35" width="3.8" height="34.80" fill="#ee4424" stroke="#0a0a0a" stroke-width="0.95" rx="0.3"/>
<rect x="396.21" y="464.3" width="1.2" height="26.1" fill="#0a0a0a"/>
<rect x="394.41" y="478.95" width="4.8" height="1.5" rx="0.6" fill="#0a0a0a"/>
<rect x="401.88" y="470.3" width="1.2" height="32.1" fill="#0a0a0a"/>
<rect x="400.58" y="475.45" width="3.8" height="3.70" fill="#0dab4c" stroke="#0a0a0a" stroke-width="0.95" rx="0.3"/>
<rect x="407.56" y="454.3" width="1.2" height="31.0" fill="#0a0a0a"/>
<rect x="406.26" y="457.45" width="3.8" height="27.30" fill="#0dab4c" stroke="#0a0a0a" stroke-width="0.95" rx="0.3"/>
<rect x="413.24" y="417.1" width="1.2" height="34.5" fill="#0a0a0a"/>
<rect x="411.94" y="423.95" width="3.8" height="27.10" fill="#0dab4c" stroke="#0a0a0a" stroke-width="0.95" rx="0.3"/>
<rect x="418.91" y="390.1" width="1.2" height="66.8" fill="#0a0a0a"/>
<rect x="417.61" y="397.65" width="3.8" height="32.40" fill="#0dab4c" stroke="#0a0a0a" stroke-width="0.95" rx="0.3"/>
<rect x="424.59" y="382.4" width="1.2" height="21.1" fill="#0a0a0a"/>
<rect x="423.29" y="389.65" width="3.8" height="12.30" fill="#0dab4c" stroke="#0a0a0a" stroke-width="0.95" rx="0.3"/>
<rect x="430.27" y="377.4" width="1.2" height="24.7" fill="#0a0a0a"/>
<rect x="428.97" y="388.95" width="3.8" height="6.20" fill="#0dab4c" stroke="#0a0a0a" stroke-width="0.95" rx="0.3"/>
<rect x="435.94" y="293.3" width="1.2" height="79.1" fill="#0a0a0a"/>
<rect x="434.65" y="310.15" width="3.8" height="61.70" fill="#0dab4c" stroke="#0a0a0a" stroke-width="0.95" rx="0.3"/>
<rect x="441.62" y="278.4" width="1.2" height="56.4" fill="#0a0a0a"/>
<rect x="440.32" y="281.35" width="3.8" height="44.90" fill="#0dab4c" stroke="#0a0a0a" stroke-width="0.95" rx="0.3"/>
<rect x="447.30" y="256.3" width="1.2" height="36.5" fill="#0a0a0a"/>
<rect x="446.00" y="256.85" width="3.8" height="35.40" fill="#0dab4c" stroke="#0a0a0a" stroke-width="0.95" rx="0.3"/>
<rect x="452.98" y="261.3" width="1.2" height="27.1" fill="#0a0a0a"/>
<rect x="451.18" y="265.15" width="4.8" height="1.5" rx="0.6" fill="#0a0a0a"/>
<rect x="458.65" y="267.3" width="1.2" height="23.5" fill="#0a0a0a"/>
<rect x="457.35" y="273.45" width="3.8" height="12.80" fill="#0dab4c" stroke="#0a0a0a" stroke-width="0.95" rx="0.3"/>
<rect x="464.33" y="235.8" width="1.2" height="35.5" fill="#0a0a0a"/>
<rect x="463.03" y="244.95" width="3.8" height="17.60" fill="#0dab4c" stroke="#0a0a0a" stroke-width="0.95" rx="0.3"/>
<rect x="470.01" y="246.8" width="1.2" height="30.5" fill="#0a0a0a"/>
<rect x="468.71" y="249.35" width="3.8" height="13.80" fill="#ee4424" stroke="#0a0a0a" stroke-width="0.95" rx="0.3"/>
<rect x="475.68" y="255.3" width="1.2" height="20.0" fill="#0a0a0a"/>
<rect x="474.38" y="256.45" width="3.8" height="10.10" fill="#0dab4c" stroke="#0a0a0a" stroke-width="0.95" rx="0.3"/>
<rect x="481.36" y="261.3" width="1.2" height="16.4" fill="#0a0a0a"/>
<rect x="480.06" y="270.45" width="3.8" height="6.70" fill="#0dab4c" stroke="#0a0a0a" stroke-width="0.95" rx="0.3"/>
<rect x="487.04" y="255.3" width="1.2" height="19.0" fill="#0a0a0a"/>
<rect x="485.74" y="267.50" width="3.8" height="2.00" fill="#0dab4c" stroke="#0a0a0a" stroke-width="0.95" rx="0.3"/>
<rect x="492.71" y="256.3" width="1.2" height="18.0" fill="#0a0a0a"/>
<rect x="491.42" y="262.85" width="3.8" height="5.30" fill="#ee4424" stroke="#0a0a0a" stroke-width="0.95" rx="0.3"/>
<rect x="498.39" y="239.2" width="1.2" height="23.5" fill="#0a0a0a"/>
<rect x="497.09" y="246.35" width="3.8" height="13.20" fill="#0dab4c" stroke="#0a0a0a" stroke-width="0.95" rx="0.3"/>
<rect x="504.07" y="230.2" width="1.2" height="30.5" fill="#0a0a0a"/>
<rect x="502.77" y="237.75" width="3.8" height="19.40" fill="#ee4424" stroke="#0a0a0a" stroke-width="0.95" rx="0.3"/>
<rect x="509.75" y="248.8" width="1.2" height="18.9" fill="#0a0a0a"/>
<rect x="508.45" y="253.85" width="3.8" height="8.30" fill="#ee4424" stroke="#0a0a0a" stroke-width="0.95" rx="0.3"/>
<rect x="515.42" y="247.8" width="1.2" height="30.9" fill="#0a0a0a"/>
<rect x="514.12" y="260.45" width="3.8" height="3.10" fill="#0dab4c" stroke="#0a0a0a" stroke-width="0.95" rx="0.3"/>
<rect x="521.10" y="251.2" width="1.2" height="42.2" fill="#0a0a0a"/>
<rect x="519.80" y="255.45" width="3.8" height="23.10" fill="#ee4424" stroke="#0a0a0a" stroke-width="0.95" rx="0.3"/>
<rect x="526.78" y="253.2" width="1.2" height="29.5" fill="#0a0a0a"/>
<rect x="525.48" y="255.45" width="3.8" height="25.10" fill="#0dab4c" stroke="#0a0a0a" stroke-width="0.95" rx="0.3"/>
<rect x="532.45" y="234.2" width="1.2" height="31.1" fill="#0a0a0a"/>
<rect x="531.15" y="236.35" width="3.8" height="22.80" fill="#0dab4c" stroke="#0a0a0a" stroke-width="0.95" rx="0.3"/>
<rect x="538.13" y="223.2" width="1.2" height="21.0" fill="#0a0a0a"/>
<rect x="536.83" y="228.75" width="3.8" height="13.30" fill="#0dab4c" stroke="#0a0a0a" stroke-width="0.95" rx="0.3"/>
<rect x="543.81" y="207.1" width="1.2" height="25.5" fill="#0a0a0a"/>
<rect x="542.51" y="211.65" width="3.8" height="20.40" fill="#0dab4c" stroke="#0a0a0a" stroke-width="0.95" rx="0.3"/>
<rect x="549.48" y="198.5" width="1.2" height="21.2" fill="#0a0a0a"/>
<rect x="547.68" y="208.75" width="4.8" height="1.5" rx="0.6" fill="#0a0a0a"/>
<rect x="555.16" y="205.5" width="1.2" height="14.7" fill="#0a0a0a"/>
<rect x="553.86" y="208.25" width="3.8" height="7.70" fill="#0dab4c" stroke="#0a0a0a" stroke-width="0.95" rx="0.3"/>
<rect x="560.84" y="192.1" width="1.2" height="22.4" fill="#0a0a0a"/>
<rect x="559.54" y="202.50" width="3.8" height="2.00" fill="#ee4424" stroke="#0a0a0a" stroke-width="0.95" rx="0.3"/>
<rect x="566.52" y="187.1" width="1.2" height="21.4" fill="#0a0a0a"/>
<rect x="565.22" y="194.65" width="3.8" height="11.70" fill="#0dab4c" stroke="#0a0a0a" stroke-width="0.95" rx="0.3"/>
<rect x="572.19" y="195.1" width="1.2" height="24.0" fill="#0a0a0a"/>
<rect x="570.89" y="197.65" width="3.8" height="12.70" fill="#ee4424" stroke="#0a0a0a" stroke-width="0.95" rx="0.3"/>
<rect x="577.87" y="200.1" width="1.2" height="24.1" fill="#0a0a0a"/>
<rect x="576.57" y="201.25" width="3.8" height="12.10" fill="#ee4424" stroke="#0a0a0a" stroke-width="0.95" rx="0.3"/>
<rect x="583.55" y="221.2" width="1.2" height="20.0" fill="#0a0a0a"/>
<rect x="582.25" y="231.60" width="3.8" height="1.40" fill="#0dab4c" stroke="#0a0a0a" stroke-width="0.95" rx="0.3"/>
<rect x="589.22" y="210.1" width="1.2" height="18.1" fill="#0a0a0a"/>
<rect x="587.92" y="219.25" width="3.8" height="6.80" fill="#0dab4c" stroke="#0a0a0a" stroke-width="0.95" rx="0.3"/>
<rect x="594.90" y="206.5" width="1.2" height="16.1" fill="#0a0a0a"/>
<rect x="593.60" y="217.65" width="3.8" height="2.40" fill="#ee4424" stroke="#0a0a0a" stroke-width="0.95" rx="0.3"/>
<rect x="600.58" y="206.1" width="1.2" height="26.5" fill="#0a0a0a"/>
<rect x="599.28" y="218.85" width="3.8" height="10.80" fill="#ee4424" stroke="#0a0a0a" stroke-width="0.95" rx="0.3"/>
<rect x="606.25" y="241.2" width="1.2" height="44.1" fill="#0a0a0a"/>
<rect x="604.95" y="241.75" width="3.8" height="15.40" fill="#ee4424" stroke="#0a0a0a" stroke-width="0.95" rx="0.3"/>
<rect x="611.93" y="245.2" width="1.2" height="25.5" fill="#0a0a0a"/>
<rect x="610.63" y="248.35" width="3.8" height="11.80" fill="#0dab4c" stroke="#0a0a0a" stroke-width="0.95" rx="0.3"/>
<rect x="617.61" y="229.6" width="1.2" height="29.1" fill="#0a0a0a"/>
<rect x="616.31" y="237.75" width="3.8" height="16.40" fill="#0dab4c" stroke="#0a0a0a" stroke-width="0.95" rx="0.3"/>
<rect x="623.29" y="226.1" width="1.2" height="15.5" fill="#0a0a0a"/>
<rect x="621.99" y="235.25" width="3.8" height="2.10" fill="#0dab4c" stroke="#0a0a0a" stroke-width="0.95" rx="0.3"/>
<rect x="628.96" y="187.7" width="1.2" height="32.7" fill="#0a0a0a"/>
<rect x="627.66" y="206.45" width="3.8" height="11.10" fill="#0dab4c" stroke="#0a0a0a" stroke-width="0.95" rx="0.3"/>
<rect x="634.64" y="203.2" width="1.2" height="30.3" fill="#0a0a0a"/>
<rect x="633.34" y="211.15" width="3.8" height="9.70" fill="#ee4424" stroke="#0a0a0a" stroke-width="0.95" rx="0.3"/>
<rect x="640.32" y="230.1" width="1.2" height="24.5" fill="#0a0a0a"/>
<rect x="639.02" y="230.65" width="3.8" height="13.40" fill="#ee4424" stroke="#0a0a0a" stroke-width="0.95" rx="0.3"/>
<rect x="645.99" y="192.0" width="1.2" height="52.6" fill="#0a0a0a"/>
<rect x="644.69" y="214.75" width="3.8" height="24.20" fill="#0dab4c" stroke="#0a0a0a" stroke-width="0.95" rx="0.3"/>
<rect x="651.67" y="196.0" width="1.2" height="35.5" fill="#0a0a0a"/>
<rect x="650.37" y="209.05" width="3.8" height="9.20" fill="#0dab4c" stroke="#0a0a0a" stroke-width="0.95" rx="0.3"/>
<rect x="657.35" y="137.1" width="1.2" height="70.2" fill="#0a0a0a"/>
<rect x="656.05" y="138.85" width="3.8" height="66.30" fill="#0dab4c" stroke="#0a0a0a" stroke-width="0.95" rx="0.3"/>
<rect x="663.02" y="112.1" width="1.2" height="44.1" fill="#0a0a0a"/>
<rect x="661.72" y="133.65" width="3.8" height="7.70" fill="#0dab4c" stroke="#0a0a0a" stroke-width="0.95" rx="0.3"/>
<rect x="668.70" y="124.1" width="1.2" height="20.0" fill="#0a0a0a"/>
<rect x="667.40" y="132.25" width="3.8" height="4.30" fill="#ee4424" stroke="#0a0a0a" stroke-width="0.95" rx="0.3"/>
<rect x="674.38" y="131.1" width="1.2" height="31.5" fill="#0a0a0a"/>
<rect x="673.08" y="131.65" width="3.8" height="21.40" fill="#ee4424" stroke="#0a0a0a" stroke-width="0.95" rx="0.3"/>
<rect x="680.06" y="147.6" width="1.2" height="28.0" fill="#0a0a0a"/>
<rect x="678.76" y="148.35" width="3.8" height="17.70" fill="#ee4424" stroke="#0a0a0a" stroke-width="0.95" rx="0.3"/>
<rect x="685.73" y="161.2" width="1.2" height="11.0" fill="#0a0a0a"/>
<rect x="683.93" y="166.45" width="4.8" height="1.5" rx="0.6" fill="#0a0a0a"/>
<rect x="691.41" y="151.2" width="1.2" height="19.6" fill="#0a0a0a"/>
<rect x="690.11" y="154.75" width="3.8" height="11.30" fill="#0dab4c" stroke="#0a0a0a" stroke-width="0.95" rx="0.3"/>
<rect x="697.09" y="153.2" width="1.2" height="34.5" fill="#0a0a0a"/>
<rect x="695.79" y="156.75" width="3.8" height="15.70" fill="#ee4424" stroke="#0a0a0a" stroke-width="0.95" rx="0.3"/>
<rect x="702.76" y="170.2" width="1.2" height="8.7" fill="#0a0a0a"/>
<rect x="700.96" y="174.05" width="4.8" height="1.5" rx="0.6" fill="#0a0a0a"/>
<rect x="708.44" y="162.2" width="1.2" height="19.7" fill="#0a0a0a"/>
<rect x="707.14" y="168.75" width="3.8" height="8.70" fill="#ee4424" stroke="#0a0a0a" stroke-width="0.95" rx="0.3"/>
<rect x="714.12" y="164.2" width="1.2" height="17.7" fill="#0a0a0a"/>
<rect x="712.82" y="171.80" width="3.8" height="2.00" fill="#0dab4c" stroke="#0a0a0a" stroke-width="0.95" rx="0.3"/>
<rect x="719.79" y="159.2" width="1.2" height="20.1" fill="#0a0a0a"/>
<rect x="718.50" y="164.75" width="3.8" height="9.70" fill="#ee4424" stroke="#0a0a0a" stroke-width="0.95" rx="0.3"/>
<rect x="725.47" y="173.2" width="1.2" height="20.5" fill="#0a0a0a"/>
<rect x="724.17" y="173.95" width="3.8" height="9.60" fill="#ee4424" stroke="#0a0a0a" stroke-width="0.95" rx="0.3"/>
<rect x="731.15" y="176.2" width="1.2" height="29.1" fill="#0a0a0a"/>
<rect x="729.85" y="178.35" width="3.8" height="19.80" fill="#ee4424" stroke="#0a0a0a" stroke-width="0.95" rx="0.3"/>
<rect x="736.83" y="180.9" width="1.2" height="20.4" fill="#0a0a0a"/>
<rect x="735.53" y="189.90" width="3.8" height="1.40" fill="#ee4424" stroke="#0a0a0a" stroke-width="0.95" rx="0.3"/>
<rect x="742.50" y="191.3" width="1.2" height="41.3" fill="#0a0a0a"/>
<rect x="741.20" y="191.85" width="3.8" height="24.30" fill="#ee4424" stroke="#0a0a0a" stroke-width="0.95" rx="0.3"/>
<rect x="748.18" y="220.2" width="1.2" height="31.6" fill="#0a0a0a"/>
<rect x="746.38" y="226.85" width="4.8" height="1.5" rx="0.6" fill="#0a0a0a"/>
<rect x="753.86" y="230.6" width="1.2" height="46.1" fill="#0a0a0a"/>
<rect x="752.56" y="233.85" width="3.8" height="26.20" fill="#ee4424" stroke="#0a0a0a" stroke-width="0.95" rx="0.3"/>
<rect x="759.53" y="237.5" width="1.2" height="32.7" fill="#0a0a0a"/>
<rect x="758.23" y="243.95" width="3.8" height="25.70" fill="#0dab4c" stroke="#0a0a0a" stroke-width="0.95" rx="0.3"/>
<rect x="765.21" y="227.1" width="1.2" height="15.1" fill="#0a0a0a"/>
<rect x="763.91" y="230.65" width="3.8" height="7.30" fill="#0dab4c" stroke="#0a0a0a" stroke-width="0.95" rx="0.3"/>
<rect x="770.89" y="216.1" width="1.2" height="22.4" fill="#0a0a0a"/>
<rect x="769.59" y="223.25" width="3.8" height="11.70" fill="#ee4424" stroke="#0a0a0a" stroke-width="0.95" rx="0.3"/>
<rect x="776.56" y="221.2" width="1.2" height="20.4" fill="#0a0a0a"/>
<rect x="775.26" y="230.15" width="3.8" height="5.40" fill="#ee4424" stroke="#0a0a0a" stroke-width="0.95" rx="0.3"/>
<rect x="782.24" y="230.1" width="1.2" height="18.1" fill="#0a0a0a"/>
<rect x="780.44" y="236.95" width="4.8" height="1.5" rx="0.6" fill="#0a0a0a"/>
<rect x="787.92" y="218.0" width="1.2" height="17.7" fill="#0a0a0a"/>
<rect x="786.12" y="226.75" width="4.8" height="1.5" rx="0.6" fill="#0a0a0a"/>
<rect x="793.60" y="221.6" width="1.2" height="15.5" fill="#0a0a0a"/>
<rect x="791.80" y="226.75" width="4.8" height="1.5" rx="0.6" fill="#0a0a0a"/>
<rect x="799.27" y="214.6" width="1.2" height="27.2" fill="#0a0a0a"/>
<rect x="797.97" y="222.35" width="3.8" height="8.70" fill="#ee4424" stroke="#0a0a0a" stroke-width="0.95" rx="0.3"/>
<rect x="804.95" y="225.0" width="1.2" height="10.5" fill="#0a0a0a"/>
<rect x="803.65" y="229.55" width="3.8" height="4.70" fill="#0dab4c" stroke="#0a0a0a" stroke-width="0.95" rx="0.3"/>
<rect x="810.63" y="205.3" width="1.2" height="35.5" fill="#0a0a0a"/>
<rect x="809.33" y="214.45" width="3.8" height="14.70" fill="#0dab4c" stroke="#0a0a0a" stroke-width="0.95" rx="0.3"/>
<rect x="816.30" y="161.1" width="1.2" height="42.1" fill="#0a0a0a"/>
<rect x="815.00" y="164.65" width="3.8" height="37.40" fill="#0dab4c" stroke="#0a0a0a" stroke-width="0.95" rx="0.3"/>
<rect x="821.98" y="155.1" width="1.2" height="17.5" fill="#0a0a0a"/>
<rect x="820.68" y="164.65" width="3.8" height="4.70" fill="#ee4424" stroke="#0a0a0a" stroke-width="0.95" rx="0.3"/>
<rect x="827.66" y="164.1" width="1.2" height="18.1" fill="#0a0a0a"/>
<rect x="826.36" y="173.35" width="3.8" height="6.10" fill="#ee4424" stroke="#0a0a0a" stroke-width="0.95" rx="0.3"/>
<rect x="833.33" y="171.2" width="1.2" height="37.7" fill="#0a0a0a"/>
<rect x="832.03" y="173.95" width="3.8" height="29.10" fill="#ee4424" stroke="#0a0a0a" stroke-width="0.95" rx="0.3"/>
<rect x="839.01" y="193.2" width="1.2" height="19.1" fill="#0a0a0a"/>
<rect x="837.71" y="194.75" width="3.8" height="4.90" fill="#0dab4c" stroke="#0a0a0a" stroke-width="0.95" rx="0.3"/>
<rect x="844.69" y="199.2" width="1.2" height="21.1" fill="#0a0a0a"/>
<rect x="842.89" y="199.05" width="4.8" height="1.5" rx="0.6" fill="#0a0a0a"/>
<rect x="850.37" y="186.6" width="1.2" height="32.1" fill="#0a0a0a"/>
<rect x="849.07" y="202.35" width="3.8" height="8.80" fill="#0dab4c" stroke="#0a0a0a" stroke-width="0.95" rx="0.3"/>
<rect x="856.04" y="183.2" width="1.2" height="32.7" fill="#0a0a0a"/>
<rect x="854.74" y="189.75" width="3.8" height="12.90" fill="#0dab4c" stroke="#0a0a0a" stroke-width="0.95" rx="0.3"/>
<rect x="861.72" y="175.8" width="1.2" height="35.5" fill="#0a0a0a"/>
<rect x="860.42" y="183.75" width="3.8" height="4.30" fill="#ee4424" stroke="#0a0a0a" stroke-width="0.95" rx="0.3"/>
<rect x="867.40" y="191.2" width="1.2" height="49.2" fill="#0a0a0a"/>
<rect x="866.10" y="209.85" width="3.8" height="29.40" fill="#ee4424" stroke="#0a0a0a" stroke-width="0.95" rx="0.3"/>
<rect x="873.07" y="200.2" width="1.2" height="25.5" fill="#0a0a0a"/>
<rect x="871.77" y="209.45" width="3.8" height="12.70" fill="#0dab4c" stroke="#0a0a0a" stroke-width="0.95" rx="0.3"/>
<rect x="878.75" y="187.2" width="1.2" height="28.7" fill="#0a0a0a"/>
<rect x="877.45" y="197.35" width="3.8" height="4.70" fill="#0dab4c" stroke="#0a0a0a" stroke-width="0.95" rx="0.3"/>
<rect x="884.43" y="175.2" width="1.2" height="23.6" fill="#0a0a0a"/>
<rect x="883.13" y="185.75" width="3.8" height="6.30" fill="#0dab4c" stroke="#0a0a0a" stroke-width="0.95" rx="0.3"/>
<rect x="890.10" y="181.2" width="1.2" height="28.1" fill="#0a0a0a"/>
<rect x="888.80" y="187.35" width="3.8" height="4.30" fill="#0dab4c" stroke="#0a0a0a" stroke-width="0.95" rx="0.3"/>
<rect x="895.78" y="169.1" width="1.2" height="43.6" fill="#0a0a0a"/>
<rect x="894.48" y="193.35" width="3.8" height="13.20" fill="#0dab4c" stroke="#0a0a0a" stroke-width="0.95" rx="0.3"/>
<rect x="901.46" y="164.5" width="1.2" height="32.1" fill="#0a0a0a"/>
<rect x="900.16" y="166.25" width="3.8" height="2.10" fill="#0dab4c" stroke="#0a0a0a" stroke-width="0.95" rx="0.3"/>
<rect x="907.14" y="149.1" width="1.2" height="27.7" fill="#0a0a0a"/>
<rect x="905.84" y="161.85" width="3.8" height="8.20" fill="#0dab4c" stroke="#0a0a0a" stroke-width="0.95" rx="0.3"/>
<rect x="912.81" y="161.1" width="1.2" height="17.1" fill="#0a0a0a"/>
<rect x="911.51" y="164.50" width="3.8" height="2.00" fill="#0dab4c" stroke="#0a0a0a" stroke-width="0.95" rx="0.3"/>
<rect x="918.49" y="154.1" width="1.2" height="16.5" fill="#0a0a0a"/>
<rect x="917.19" y="161.65" width="3.8" height="3.70" fill="#0dab4c" stroke="#0a0a0a" stroke-width="0.95" rx="0.3"/>
<rect x="924.17" y="143.7" width="1.2" height="26.9" fill="#0a0a0a"/>
<rect x="922.87" y="154.25" width="3.8" height="7.30" fill="#0dab4c" stroke="#0a0a0a" stroke-width="0.95" rx="0.3"/>
<rect x="929.84" y="141.1" width="1.2" height="22.0" fill="#0a0a0a"/>
<rect x="928.54" y="143.65" width="3.8" height="13.40" fill="#ee4424" stroke="#0a0a0a" stroke-width="0.95" rx="0.3"/>
<rect x="935.52" y="154.1" width="1.2" height="12.4" fill="#0a0a0a"/>
<rect x="934.22" y="157.65" width="3.8" height="8.40" fill="#0dab4c" stroke="#0a0a0a" stroke-width="0.95" rx="0.3"/>
<rect x="941.20" y="156.8" width="1.2" height="13.8" fill="#0a0a0a"/>
<rect x="939.90" y="158.35" width="3.8" height="8.10" fill="#ee4424" stroke="#0a0a0a" stroke-width="0.95" rx="0.3"/>
<rect x="946.87" y="154.5" width="1.2" height="24.2" fill="#0a0a0a"/>
<rect x="945.57" y="158.15" width="3.8" height="2.80" fill="#ee4424" stroke="#0a0a0a" stroke-width="0.95" rx="0.3"/>
<rect x="952.55" y="168.2" width="1.2" height="24.5" fill="#0a0a0a"/>
<rect x="951.25" y="171.45" width="3.8" height="5.80" fill="#ee4424" stroke="#0a0a0a" stroke-width="0.95" rx="0.3"/>
<rect x="958.23" y="174.1" width="1.2" height="23.9" fill="#0a0a0a"/>
<rect x="956.93" y="175.75" width="3.8" height="3.40" fill="#0dab4c" stroke="#0a0a0a" stroke-width="0.95" rx="0.3"/>
<rect x="963.91" y="177.8" width="1.2" height="16.6" fill="#0a0a0a"/>
<rect x="962.61" y="178.95" width="3.8" height="2.90" fill="#ee4424" stroke="#0a0a0a" stroke-width="0.95" rx="0.3"/>
<rect x="969.58" y="178.2" width="1.2" height="18.6" fill="#0a0a0a"/>
<rect x="968.28" y="178.95" width="3.8" height="12.70" fill="#0dab4c" stroke="#0a0a0a" stroke-width="0.95" rx="0.3"/>
<rect x="975.26" y="173.8" width="1.2" height="30.6" fill="#0a0a0a"/>
<rect x="973.96" y="183.65" width="3.8" height="5.40" fill="#ee4424" stroke="#0a0a0a" stroke-width="0.95" rx="0.3"/>
<rect x="980.94" y="159.4" width="1.2" height="23.1" fill="#0a0a0a"/>
<rect x="979.64" y="171.15" width="3.8" height="9.00" fill="#0dab4c" stroke="#0a0a0a" stroke-width="0.95" rx="0.3"/>
<rect x="986.61" y="161.4" width="1.2" height="19.1" fill="#0a0a0a"/>
<rect x="985.31" y="167.95" width="3.8" height="2.20" fill="#ee4424" stroke="#0a0a0a" stroke-width="0.95" rx="0.3"/>
<rect x="992.29" y="157.0" width="1.2" height="17.1" fill="#0a0a0a"/>
<rect x="990.49" y="159.25" width="4.8" height="1.5" rx="0.6" fill="#0a0a0a"/>
<rect x="997.97" y="158.2" width="1.2" height="20.5" fill="#0a0a0a"/>
<rect x="996.67" y="160.45" width="3.8" height="13.50" fill="#ee4424" stroke="#0a0a0a" stroke-width="0.95" rx="0.3"/>
<path d="M661.2 107.7 Q662.8 105.6 664.4 107.2 T665.6 109.7" fill="none" stroke="#0dab4c" stroke-width="1.3" stroke-linecap="round"/>
<path d="M400.4 507.1 Q402.4 509 403.7 507.3 T404.7 505.3" fill="none" stroke="#0dab4c" stroke-width="1.3" stroke-linecap="round"/>
<path d="M1097.7 173.6 L1104 163.6 H1151.5 a1.5 1.5 0 0 1 1.5 1.5 V182.1 a1.5 1.5 0 0 1 -1.5 1.5 H1104Z" fill="#ee4424"/>
<text x="1108.5" y="176.9" font-size="11.9" font-weight="bold" fill="#fff">6,680.5</text>
<path d="M1097.7 190.4 L1104 180.4 H1151.5 a1.5 1.5 0 0 1 1.5 1.5 V198.9 a1.5 1.5 0 0 1 -1.5 1.5 H1104Z" fill="#ee4424"/>
<text x="1108.5" y="193.7" font-size="11.9" font-weight="bold" fill="#fff">6,620.4</text>
<path d="M1097.7 241.6 L1104 231.6 H1151.5 a1.5 1.5 0 0 1 1.5 1.5 V250.1 a1.5 1.5 0 0 1 -1.5 1.5 H1104Z" fill="#000"/>
<text x="1108.5" y="244.9" font-size="11.9" font-weight="bold" fill="#fff">6,430.7</text>
<path d="M1097.7 589.8 L1104 579.8 H1146.2 a1.5 1.5 0 0 1 1.5 1.5 V598.3 a1.5 1.5 0 0 1 -1.5 1.5 H1104Z" fill="#b540d0"/>
<text x="1108.5" y="593.1" font-size="11.9" font-weight="bold" fill="#fff">0.61M</text>
<path d="M1097.7 646.9 L1104 636.9 H1146.2 a1.5 1.5 0 0 1 1.5 1.5 V655.4 a1.5 1.5 0 0 1 -1.5 1.5 H1104Z" fill="#ee4424"/>
<text x="1108.5" y="650.2" font-size="11.9" font-weight="bold" fill="#fff">0.08M</text>
</svg></body></html>
